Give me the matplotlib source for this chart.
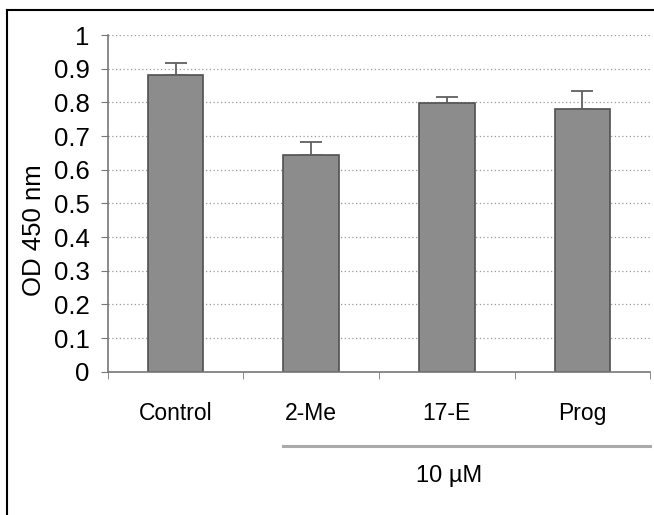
import matplotlib.pyplot as plt
from matplotlib.lines import Line2D

plt.rcParams['font.family'] = ['Liberation Sans', 'DejaVu Sans']

groups = ["Control", "2-Me", "17-E", "Prog"]
od_values = [0.882, 0.645, 0.797, 0.780]
od_errors = [0.036, 0.036, 0.020, 0.055]
y_ticks = [0, 0.1, 0.2, 0.3, 0.4, 0.5, 0.6, 0.7, 0.8, 0.9, 1]
y_tick_labels = ["0", "0.1", "0.2", "0.3", "0.4", "0.5", "0.6", "0.7", "0.8", "0.9", "1"]

fig = plt.figure(figsize=(6.54, 5.15), dpi=100)
ax = fig.add_axes([0.165, 0.278, 0.829, 0.654])

# dotted grid behind the bars
for y in y_ticks[1:]:
    ax.axhline(y, color="#9a9a9a", linestyle=(0, (1, 2)), linewidth=0.9, zorder=0)

x = list(range(len(groups)))
ax.bar(x, od_values, width=0.41, color="#8c8c8c", edgecolor="#505050",
       linewidth=1.2, zorder=2)
ax.errorbar(x, od_values, yerr=[[0] * len(od_errors), od_errors], fmt="none",
            ecolor="#606060", elinewidth=1.3, capsize=8, capthick=1.3, zorder=3)

ax.set_xlim(-0.5, 3.5)
ax.set_ylim(0, 1)
ax.set_yticks(y_ticks)
ax.set_yticklabels(y_tick_labels, fontsize=18.5)
ax.set_xticks(x)
ax.set_xticklabels(groups, fontsize=16.5)
ax.set_xticks([-0.5, 0.5, 1.5, 2.5, 3.5], minor=True)
ax.tick_params(axis="x", which="major", length=0, pad=22)
ax.tick_params(axis="x", which="minor", length=5, color="#777777", direction="out")
ax.tick_params(axis="y", length=5, color="#777777", direction="out", pad=8)
ax.set_ylabel("OD 450 nm", fontsize=18.5)
ax.yaxis.set_label_coords(-0.115, 0.42)

for side in ["top", "right"]:
    ax.spines[side].set_visible(False)
for side in ["left", "bottom"]:
    ax.spines[side].set_color("#777777")
    ax.spines[side].set_linewidth(1.2)

# bracket for the 10 uM treatments
trans = ax.get_xaxis_transform()
ax.plot([0.79, 3.5], [-0.22, -0.22], color="#aaaaaa", linewidth=2.2,
        transform=trans, clip_on=False)
ax.text(2.02, -0.31, "10 \u00b5M", transform=trans, ha="center", va="center",
        fontsize=17)

# outer frame (left and top only)
fig.add_artist(Line2D([0.011, 0.011], [0, 0.981], color="black", linewidth=1.5))
fig.add_artist(Line2D([0.011, 1.0], [0.981, 0.981], color="black", linewidth=1.5))

fig.savefig("out.png", dpi=100)
